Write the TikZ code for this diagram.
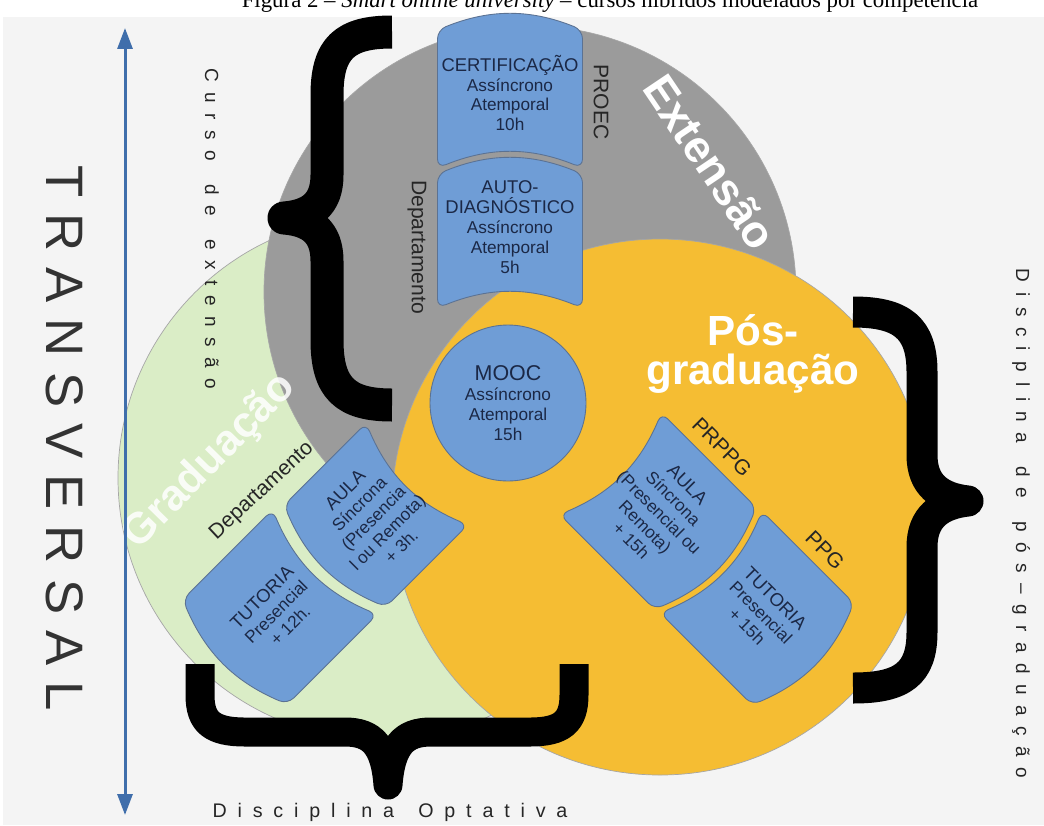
\documentclass[tikz,border=0pt]{standalone}
\usepackage{fontspec}
\setmainfont{Liberation Sans}
\newfontfamily\legenda{Liberation Serif}
\newfontfamily\espacada[LetterSpace=55]{Liberation Sans}
\newfontfamily\larga[LetterSpace=30]{Liberation Sans}
\usetikzlibrary{arrows.meta,positioning}

\definecolor{fundo}{HTML}{F4F4F4}
\definecolor{cinza}{HTML}{9B9B9B}
\definecolor{laranja}{HTML}{F5BD33}
\definecolor{verde}{HTML}{DAEDC6}
\definecolor{azul}{HTML}{6F9DD6}
\definecolor{azulborda}{HTML}{5B7293}
\definecolor{azulseta}{HTML}{3F6EAB}
\definecolor{tinta}{HTML}{1B2846}

\newcommand{\titulo}{\fontsize{10.5}{11.3}\selectfont}
\newcommand{\curva}{22}
\newcommand{\esp}{\hspace{0.4em} }
% bloco: nome, centro, giro da forma, giro do texto, largura, altura, pos. do texto, texto
\newcommand{\bloco}[8]{%
  \begin{scope}[shift={#2}, rotate=#3, x=0.02cm, y=0.02cm]
    \draw[bloco] (-#5/2,-#6/2) to[bend left=\curva] (#5/2,-#6/2)
      -- (#5/2,#6/2) to[bend right=\curva] (-#5/2,#6/2) -- cycle;
    \node[texto bloco, rotate=#4] (#1) at #7 {#8};
  \end{scope}}

\begin{document}
\begin{tikzpicture}[
        x=0.02cm, y=-0.02cm,
        every node/.style={align=center, inner sep=0pt},
        circulo/.style={draw=black!35, line width=0.4pt},
        bloco/.style={draw=azulborda, fill=azul, line width=0.5pt, rounded corners=5pt},
        texto bloco/.style={text=tinta, font=\fontsize{9.8}{11.3}\selectfont},
        rotulo/.style={text=black!85, font=\fontsize{12}{14}\selectfont},
        grande/.style={text=white, font=\bfseries\fontsize{24}{24}\selectfont},
        espacado/.style={text=black!85, font=\espacada\fontsize{10.8}{12}\selectfont},
        chave/.style={line width=0.62cm, line join=round, black}
    ]
    \clip (0,0) rectangle (1044,825);
    \fill[white] (0,0) rectangle (1044,825);
    \fill[fundo] (3,17) rectangle (1044,825);

    % Legenda (cortada no topo)
    \node[anchor=base, font=\legenda\fontsize{13}{14}\selectfont] (legenda) at (610,7)
        {Figura 2 – \textit{Smart online university} – cursos híbridos modelados por competência};

    % Circulos
    \fill[verde, circulo] (380,478) circle[radius=262];
    \fill[cinza, circulo] (530,292) circle[radius=266];
    \fill[laranja, circulo] (660,507) circle[radius=268];

    % Blocos
    \bloco{certificacao}{(510,99)}{0}{0}{145}{138}{(0,6)}
        {{\titulo CERTIFICAÇÃO}\\Assíncrono\\Atemporal\\10h}
    \bloco{autodiag}{(510,241)}{0}{0}{145}{134}{(0,14)}
        {{\titulo AUTO-}\\{\titulo DIAGNÓSTICO}\\Assíncrono\\Atemporal\\5h}
    \bloco{aulagrad}{(376,515)}{135}{45}{144}{116}{(0,4)}
        {{\titulo AULA}\\Síncrona\\(Presencia\\l ou Remota)\\+ 3h.}
    \bloco{tutoriagrad}{(280,607)}{135}{45}{148}{127}{(0,6)}
        {{\titulo TUTORIA}\\Presencial\\+ 12h.}
    \bloco{aulapos}{(658,511)}{-135}{-45}{144}{134}{(0,2)}
        {{\titulo AULA}\\Síncrona\\(Presencial ou\\Remota)\\+ 15h}
    \bloco{tutoriapos}{(757,608)}{-135}{-45}{144}{130}{(0,6)}
        {{\titulo TUTORIA}\\Presencial\\+ 15h}

    \node[circle, draw=azulborda, fill=azul, line width=0.5pt, minimum size=3.12cm, texto bloco]
        (mooc) at (508,403) {{\fontsize{12.2}{14}\selectfont MOOC}\\Assíncrono\\Atemporal\\15h};

    % Rotulos
    \node[grande, font=\bfseries\fontsize{25.5}{26}\selectfont, rotate=-56] (extensao) at (710,162) {Extensão};
    \node[grande, font=\bfseries\fontsize{24}{22.7}\selectfont] (posgrad) at (753,354) {Pós-\\graduação};
    \node[grande, text opacity=0.85, font=\bfseries\fontsize{24.7}{26}\selectfont, rotate=45.5] (graduacao) at (210,462) {Graduação};

    \node[rotulo, rotate=-90] (proec) at (601,102) {PROEC};
    \node[rotulo, rotate=-90] (depext) at (417,247) {Departamento};
    \node[rotulo, rotate=43] (depgrad) at (262,491) {Departamento};
    \node[rotulo, rotate=-45] (prppg) at (722,447) {PRPPG};
    \node[rotulo, rotate=-45] (ppg) at (825,550) {PPG};

    \node[espacado, rotate=-90] (cursoext) at (212,229) {Curso\esp de\esp extensão};
    \node[espacado, rotate=-90] (discpos) at (1021,523) {Disciplina\esp de\esp pós–graduação};
    \node[espacado, font=\espacada\fontsize{11.2}{12}\selectfont] (optativa) at (390,812) {Disciplina\esp Optativa};
    \node[rotate=-90, text=black!80, font=\larga\fontsize{30}{30}\selectfont] (transversal) at (65,438) {TRANSVERSAL};

    % Chaves
    \draw[chave, line width=0.66cm] (392,32) .. controls (345,32) and (327,48) .. (327,95) -- (327,175)
        .. controls (327,205) and (310,216) .. (284,218)
        .. controls (310,220) and (327,231) .. (327,261) -- (327,340)
        .. controls (327,388) and (345,405) .. (392,405);
    \draw[chave] (853,312) .. controls (902,312) and (922,328) .. (922,372) -- (922,455)
        .. controls (922,485) and (940,498) .. (968,501)
        .. controls (940,504) and (922,517) .. (922,547) -- (922,632)
        .. controls (922,674) and (902,688) .. (853,688);
    \draw[chave, line width=0.58cm] (200,664) -- (200,695) .. controls (200,722) and (212,732) .. (245,732) -- (345,732)
        .. controls (372,732) and (385,745) .. (388,785)
        .. controls (391,745) and (404,732) .. (431,732) -- (530,732)
        .. controls (562,732) and (574,722) .. (574,695) -- (574,664);

    % Seta
    \coordinate (topo) at (125,28);
    \coordinate (base) at (125,815);
    \draw[azulseta, line width=0.06cm, {Triangle[width=0.3cm,length=0.42cm]}-{Triangle[width=0.3cm,length=0.42cm]}] (topo) -- (base);
\end{tikzpicture}
\end{document}
